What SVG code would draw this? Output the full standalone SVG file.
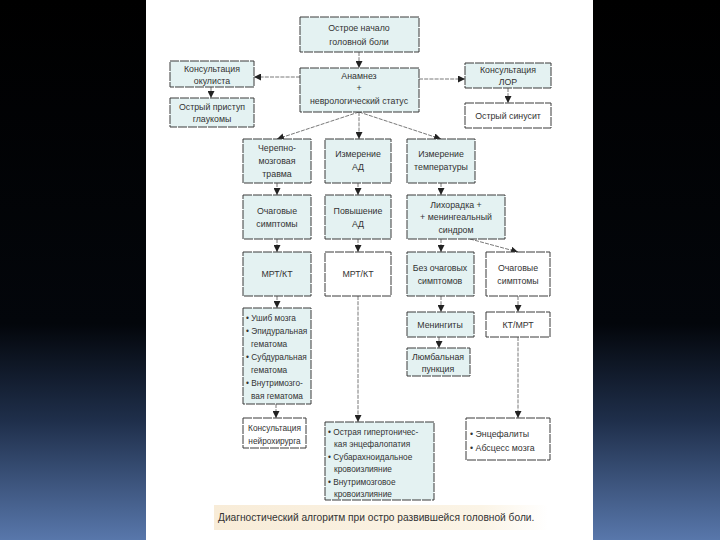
<svg xmlns="http://www.w3.org/2000/svg" width="720" height="540" viewBox="0 0 720 540">
<defs>
<linearGradient id="bg" x1="0" y1="0" x2="0" y2="1">
<stop offset="0" stop-color="#000"/>
<stop offset="0.6" stop-color="#03060b"/>
<stop offset="0.78" stop-color="#1f2f4b"/>
<stop offset="1" stop-color="#5877ab"/>
</linearGradient>
<linearGradient id="cap" x1="0" y1="0" x2="1" y2="0">
<stop offset="0" stop-color="#f8ecd8"/>
<stop offset="0.8" stop-color="#fbf4e6"/>
<stop offset="1" stop-color="#ffffff"/>
</linearGradient>
<marker id="ah" viewBox="0 0 10 10" refX="10" refY="5" markerWidth="7" markerHeight="7" orient="auto" markerUnits="userSpaceOnUse">
<path d="M0,0 L10,5 L0,10 Z" fill="#222"/>
</marker>
<style>
.b{fill:#e4f2f2;stroke:#3a3a3a;stroke-width:1;stroke-dasharray:9 1}
.w{fill:#ffffff;stroke:#3a3a3a;stroke-width:1;stroke-dasharray:9 1}
.c{stroke:#555;stroke-width:0.8;fill:none;stroke-dasharray:4 1.2;marker-end:url(#ah)}
text{font-family:"Liberation Sans",Arial,sans-serif;font-size:8.8px;fill:#333}
.m{text-anchor:middle}
.l{font-size:8.3px}
</style>
</defs>
<rect x="0" y="0" width="720" height="540" fill="url(#bg)"/>
<rect x="146" y="0" width="447" height="540" fill="#ffffff"/>
<rect x="214" y="505" width="334" height="25" fill="url(#cap)"/>

<g id="connectors">
<line class="c" x1="359" y1="52" x2="359" y2="68"/>
<line class="c" x1="300" y1="77" x2="254" y2="77"/>
<line class="c" x1="419" y1="79" x2="465" y2="79"/>
<line class="c" x1="211" y1="87" x2="211" y2="98"/>
<line class="c" x1="508" y1="88" x2="508" y2="103"/>
<line class="c" x1="359" y1="112" x2="277" y2="139"/>
<line class="c" x1="359" y1="112" x2="359" y2="139"/>
<line class="c" x1="359" y1="112" x2="441" y2="139"/>
<line class="c" x1="277" y1="183" x2="277" y2="195"/>
<line class="c" x1="358" y1="183" x2="358" y2="195"/>
<line class="c" x1="441" y1="183" x2="441" y2="195"/>
<line class="c" x1="277" y1="239" x2="277" y2="252"/>
<line class="c" x1="358" y1="239" x2="358" y2="252"/>
<line class="c" x1="441" y1="239" x2="441" y2="252"/>
<line class="c" x1="470" y1="239" x2="518" y2="252"/>
<line class="c" x1="277" y1="296" x2="277" y2="308"/>
<line class="c" x1="358" y1="296" x2="358" y2="422"/>
<line class="c" x1="441" y1="296" x2="441" y2="312"/>
<line class="c" x1="518" y1="296" x2="518" y2="312"/>
<line class="c" x1="439" y1="337" x2="439" y2="348"/>
<line class="c" x1="518" y1="337" x2="518" y2="418"/>
<line class="c" x1="276" y1="404" x2="276" y2="418"/>
</g>

<g id="n1"><rect class="b" x="300" y="17" width="119" height="35"/>
<text class="m" x="359" y="31">Острое начало</text><text class="m" x="359" y="45">головной боли</text></g>
<g id="n2"><rect class="b" x="300" y="68" width="119" height="44"/>
<text class="m" x="359" y="79">Анамнез</text><text class="m" x="359" y="91">+</text><text class="m" x="359" y="104">неврологический статус</text></g>
<g id="n3"><rect class="b" x="170" y="61" width="84" height="26"/>
<text class="m" x="212" y="72">Консультация</text><text class="m" x="212" y="84">окулиста</text></g>
<g id="n4"><rect class="b" x="170" y="98" width="84" height="29"/>
<text class="m" x="212" y="110">Острый приступ</text><text class="m" x="212" y="122">глаукомы</text></g>
<g id="n5"><rect class="b" x="465" y="63" width="86" height="25"/>
<text class="m" x="508" y="73">Консультация</text><text class="m" x="508" y="85">ЛОР</text></g>
<g id="n6"><rect class="w" x="465" y="103" width="86" height="25"/>
<text class="m" x="508" y="119">Острый синусит</text></g>

<g id="n7"><rect class="b" x="243" y="139" width="68" height="44"/>
<text class="m" x="277" y="151">Черепно-</text><text class="m" x="277" y="164">мозговая</text><text class="m" x="277" y="177">травма</text></g>
<g id="n8"><rect class="b" x="325" y="139" width="66" height="44"/>
<text class="m" x="358" y="157">Измерение</text><text class="m" x="358" y="170">АД</text></g>
<g id="n9"><rect class="b" x="407" y="139" width="68" height="44"/>
<text class="m" x="441" y="157">Измерение</text><text class="m" x="441" y="170">температуры</text></g>

<g id="n10"><rect class="b" x="243" y="195" width="68" height="44"/>
<text class="m" x="277" y="214">Очаговые</text><text class="m" x="277" y="227">симптомы</text></g>
<g id="n11"><rect class="b" x="325" y="195" width="66" height="44"/>
<text class="m" x="358" y="214">Повышение</text><text class="m" x="358" y="227">АД</text></g>
<g id="n12"><rect class="b" x="407" y="195" width="98" height="44"/>
<text class="m" x="456" y="208">Лихорадка +</text><text class="m" x="456" y="220">+ менингеальный</text><text class="m" x="456" y="233">синдром</text></g>

<g id="n13"><rect class="b" x="243" y="252" width="68" height="44"/>
<text class="m" x="277" y="277">МРТ/КТ</text></g>
<g id="n14"><rect class="w" x="325" y="252" width="66" height="44"/>
<text class="m" x="358" y="277">МРТ/КТ</text></g>
<g id="n15"><rect class="b" x="407" y="252" width="67" height="44"/>
<text class="m" x="440" y="271">Без очаговых</text><text class="m" x="440" y="284">симптомов</text></g>
<g id="n16"><rect class="w" x="486" y="252" width="64" height="44"/>
<text class="m" x="518" y="271">Очаговые</text><text class="m" x="518" y="284">симптомы</text></g>

<g id="n17"><rect class="b" x="243" y="308" width="68" height="96"/>
<text class="l" x="246" y="321">• Ушиб мозга</text>
<text class="l" x="246" y="334">• Эпидуральная</text>
<text class="l" x="251" y="347">гематома</text>
<text class="l" x="246" y="360">• Субдуральная</text>
<text class="l" x="251" y="373">гематома</text>
<text class="l" x="246" y="386">• Внутримозго-</text>
<text class="l" x="251" y="399">вая гематома</text></g>
<g id="n18"><rect class="b" x="407" y="312" width="67" height="25"/>
<text class="m" x="440" y="328">Менингиты</text></g>
<g id="n19"><rect class="w" x="486" y="312" width="64" height="25"/>
<text class="m" x="518" y="328">КТ/МРТ</text></g>
<g id="n20"><rect class="b" x="407" y="348" width="63" height="28"/>
<text class="m" x="438" y="360">Люмбальная</text><text class="m" x="438" y="372">пункция</text></g>

<g id="n21"><rect class="w" x="243" y="418" width="63" height="30"/>
<text class="m l" x="274.5" y="431">Консультация</text><text class="m l" x="274.5" y="444">нейрохирурга</text></g>
<g id="n22"><rect class="b" x="325" y="422" width="109" height="78"/>
<text class="l" x="328" y="435">• Острая гипертоничес-</text>
<text class="l" x="334" y="447">кая энцефалопатия</text>
<text class="l" x="328" y="460">• Субарахноидальное</text>
<text class="l" x="334" y="472">кровоизлияние</text>
<text class="l" x="328" y="485">• Внутримозговое</text>
<text class="l" x="334" y="497">кровоизлияние</text></g>
<g id="n23"><rect class="w" x="466" y="418" width="84" height="42"/>
<text x="470" y="437">• Энцефалиты</text>
<text x="470" y="451">• Абсцесс мозга</text></g>

<text x="218" y="521" style="font-size:10.2px">Диагностический алгоритм при остро развившейся головной боли.</text>
</svg>
